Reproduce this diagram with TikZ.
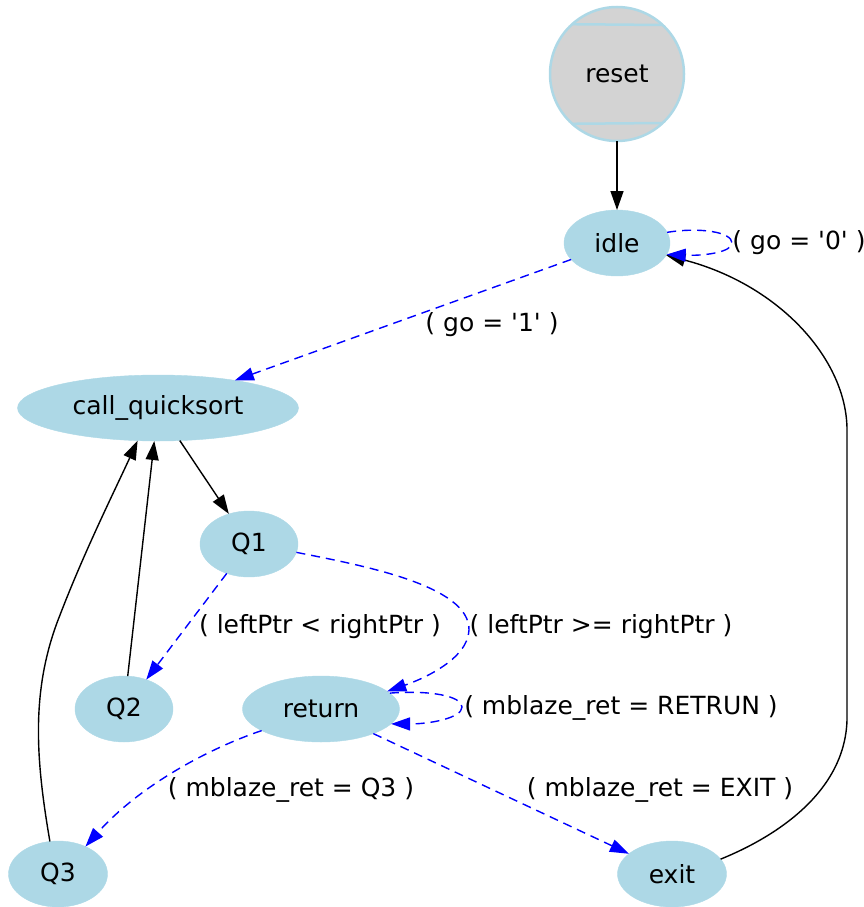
\documentclass[tikz,border=0pt]{standalone}
\usepackage{fontspec}
\setmainfont{DejaVu Sans}
\usetikzlibrary{arrows.meta,shapes.geometric}
\definecolor{nodeblue}{HTML}{ADD8E6}
\definecolor{resetgray}{HTML}{D3D3D3}

\begin{document}
\begin{tikzpicture}[
  x = 1pt, y = -1pt,
  font = \fontsize{25}{29}\selectfont,
  every node/.style = {align=center},
  state/.style   = {ellipse, fill=nodeblue, draw=nodeblue, inner sep=0pt,
                    outer sep=0pt, minimum height=66pt},
  initial/.style = {circle, fill=resetgray, draw=nodeblue, line width=2.5pt,
                    inner sep=0pt, outer sep=0pt, minimum size=134pt},
  elabel/.style  = {inner sep=0pt},
  plain/.style   = {-{Triangle[length=19pt,width=13pt]}, line width=1.4pt},
  trans/.style   = {plain, blue, dash pattern=on 9pt off 6pt},
]
\useasboundingbox (0,0) rectangle (864,907);

% States
\node[initial] (reset) at (617,74) {reset};
\node[state, minimum width=106pt] (idle)           at (617,243) {idle};
\node[state, minimum width=281pt] (call_quicksort) at (158,408) {call\_quicksort};
\node[state, minimum width=98pt]  (Q1)             at (249,544) {Q1};
\node[state, minimum width=98pt]  (Q2)             at (124,709) {Q2};
\node[state, minimum width=157pt] (return)         at (321,709) {return};
\node[state, minimum width=99pt]  (Q3)             at (58,874)  {Q3};
\node[state, minimum width=109pt] (exit)           at (672,874) {exit};

% Mcircle bars on reset
\draw[nodeblue, line width=2.5pt] (reset.132.4) -- (reset.47.6);
\draw[nodeblue, line width=2.5pt] (reset.-132.4) -- (reset.-47.6);

% Transition labels
\node[elabel] (lgo0)  at (799,243) {( go = \textquotesingle 0\textquotesingle{} )};
\node[elabel] (lgo1)  at (492,325) {( go = \textquotesingle 1\textquotesingle{} )};
\node[elabel] (lless) at (320,627) {( leftPtr < rightPtr )};
\node[elabel] (lgeq)  at (601,627) {( leftPtr >= rightPtr )};
\node[elabel] (lret)  at (621,708) {( mblaze\_ret = RETRUN )};
\node[elabel] (lq3)   at (291,790) {( mblaze\_ret = Q3 )};
\node[elabel] (lexit) at (660,790) {( mblaze\_ret = EXIT )};

% Unconditional edges
\draw[plain] (reset) -- (idle);
\draw[plain] (call_quicksort) -- (Q1);
\draw[plain] (Q2) -- (call_quicksort);
\draw[plain] (Q3.104) .. controls (36,760) and (30,690) .. (60,615)
                      .. controls (85,550) and (115,490) .. (call_quicksort.-122);
\draw[plain] (exit.17) .. controls (780,835) and (845,790) .. (847,720)
             -- (847,430) .. controls (847,360) and (780,285) .. (idle.-14);

% Conditional edges
\draw[trans] (idle.12) .. controls (700,227) and (732,232) .. (732,243)
             .. controls (732,252) and (705,256) .. (idle.-13);
\draw[trans] (idle) -- (call_quicksort);
\draw[trans] (Q1) -- (Q2);
\draw[trans] (Q1.-10) .. controls (360,565) and (470,585) .. (469,630)
             .. controls (468,660) and (420,680) .. (return.15);
\draw[trans] (return.13) .. controls (430,690) and (462,696) .. (462,707)
             .. controls (462,718) and (430,724) .. (return.-12);
\draw[trans] (return.200) .. controls (210,748) and (140,785) .. (Q3.45);
\draw[trans] (return) -- (exit);

\end{tikzpicture}
\end{document}
